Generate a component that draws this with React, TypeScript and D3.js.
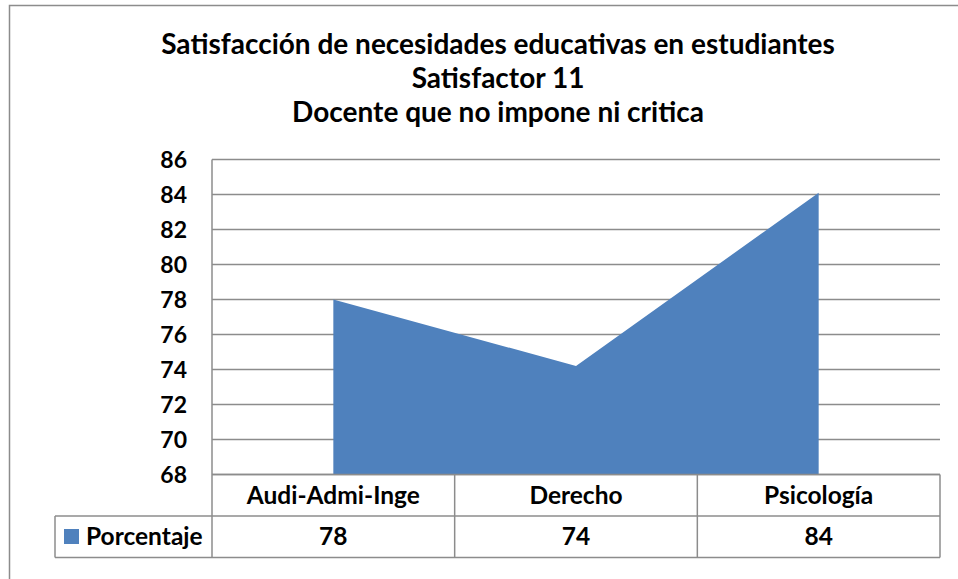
import React, { useRef, useEffect } from 'react';
import * as d3 from 'd3';

// Chart data
const titleLines = [
  'Satisfacción de necesidades educativas en estudiantes',
  'Satisfactor 11',
  'Docente que no impone ni critica',
];
const categories = ['Audi-Admi-Inge', 'Derecho', 'Psicología'];
const seriesName = 'Porcentaje';
const values = [78, 74.2, 84.1];
const yTicks = [68, 70, 72, 74, 76, 78, 80, 82, 84, 86];

const FONT = 'Lato, "Open Sans", sans-serif';
const GRID = '#8c8c8c';
const FILL = '#4F81BD';

export default function App() {
  const svgRef = useRef<SVGSVGElement>(null);

  useEffect(() => {
    const svg = d3.select(svgRef.current);
    svg.selectAll('*').remove();
    if (!svgRef.current) return;

    const width = 958;
    const height = 579;
    svg.attr('viewBox', `0 0 ${width} ${height}`);

    // plot box
    const left = 212, right = 940, top = 159.5, bottom = 474.5;
    const rowH = 41.5;
    const legendLeft = 55;

    // outer frame (right/bottom edges fall outside the picture)
    svg.append('rect').attr('x', 9.5).attr('y', 5.5).attr('width', 960).attr('height', 600)
      .attr('fill', 'white').attr('stroke', GRID).attr('stroke-width', 1.5);

    // title
    const titleY = [54, 88, 122];
    titleLines.forEach((t, i) => {
      svg.append('text').attr('x', 498).attr('y', titleY[i])
        .attr('text-anchor', 'middle').attr('font-family', FONT).attr('font-weight', 'bold')
        .attr('font-size', 28).attr('fill', '#000').text(t);
    });

    const x = d3.scaleBand<string>().domain(categories).range([left, right]);
    const y = d3.scaleLinear().domain([68, 86]).range([bottom, top]);

    // gridlines + tick labels
    for (const t of yTicks) {
      svg.append('line').attr('x1', left).attr('x2', right).attr('y1', y(t)).attr('y2', y(t))
        .attr('stroke', GRID).attr('stroke-width', 1.5);
      svg.append('text').attr('x', 187).attr('y', y(t) + 8)
        .attr('text-anchor', 'end').attr('font-family', FONT).attr('font-weight', 'bold')
        .attr('font-size', 23).text(t);
    }

    // area series
    const area = d3.area<number>()
      .x((_, i) => (x(categories[i]) ?? 0) + x.bandwidth() / 2)
      .y0(y(68))
      .y1((d) => y(d));
    svg.append('path').datum(values).attr('d', area).attr('fill', FILL);

    // left axis line
    svg.append('line').attr('x1', left).attr('x2', left).attr('y1', top).attr('y2', bottom + 2 * rowH)
      .attr('stroke', GRID).attr('stroke-width', 1.5);

    // data table below the plot
    const tableLines: [number, number, number, number][] = [
      [left, bottom, right, bottom],
      [legendLeft, bottom + rowH, right, bottom + rowH],
      [legendLeft, bottom + 2 * rowH, right, bottom + 2 * rowH],
      [legendLeft, bottom + rowH, legendLeft, bottom + 2 * rowH],
      [right, bottom, right, bottom + 2 * rowH],
    ];
    categories.forEach((c, i) => {
      if (i === 0) return;
      const xs = x(c) ?? 0;
      tableLines.push([xs, bottom, xs, bottom + 2 * rowH]);
    });
    for (const [x1, y1, x2, y2] of tableLines) {
      svg.append('line').attr('x1', x1).attr('y1', y1).attr('x2', x2).attr('y2', y2)
        .attr('stroke', GRID).attr('stroke-width', 1.5);
    }

    categories.forEach((c, i) => {
      const cx = (x(c) ?? 0) + x.bandwidth() / 2;
      svg.append('text').attr('x', cx).attr('y', bottom + rowH / 2 + 8.5)
        .attr('text-anchor', 'middle').attr('font-family', FONT).attr('font-weight', 'bold')
        .attr('font-size', 24.5).text(c);
      svg.append('text').attr('x', cx).attr('y', bottom + rowH * 1.5 + 8.5)
        .attr('text-anchor', 'middle').attr('font-family', FONT).attr('font-weight', 'bold')
        .attr('font-size', 24.5).text(d3.format('.0f')(values[i]));
    });

    // legend key
    svg.append('rect').attr('x', 64).attr('y', 529).attr('width', 15).attr('height', 15).attr('fill', FILL);
    svg.append('text').attr('x', 86).attr('y', bottom + rowH * 1.5 + 8.5)
      .attr('font-family', FONT).attr('font-weight', 'bold').attr('font-size', 24.5).text(seriesName);
  }, []);

  return (
    <svg ref={svgRef} width={958} height={579}
      style={{ position: 'absolute', left: 0, top: 0, display: 'block' }} />
  );
}
